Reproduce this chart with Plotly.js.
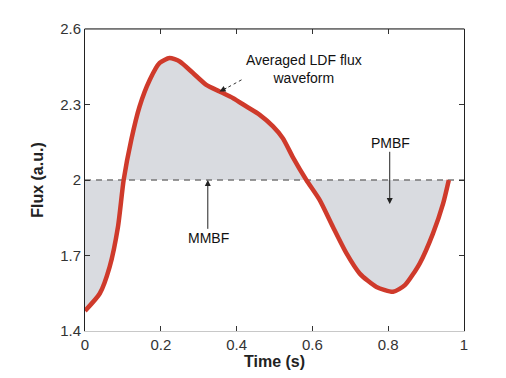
<!DOCTYPE html>
<html>
<head>
<meta charset="utf-8">
<script src="https://cdn.plot.ly/plotly-3.0.1.min.js"></script>
<style>html,body{margin:0;padding:0;background:#fff;}#chart{width:506px;height:378px;}</style>
</head>
<body>
<div id="chart"></div>
<script>
var time = [0, 0.039, 0.065, 0.087, 0.102, 0.122, 0.144, 0.171, 0.197, 0.223, 0.250, 0.285, 0.320, 0.355, 0.391, 0.426, 0.461, 0.496, 0.522, 0.549, 0.584, 0.619, 0.654, 0.690, 0.725, 0.769, 0.813, 0.844, 0.883, 0.918, 0.945, 0.960];
var flux = [1.480, 1.549, 1.655, 1.814, 2.000, 2.159, 2.292, 2.398, 2.465, 2.485, 2.471, 2.425, 2.378, 2.352, 2.325, 2.292, 2.259, 2.213, 2.166, 2.089, 2.000, 1.921, 1.814, 1.708, 1.628, 1.575, 1.556, 1.582, 1.668, 1.787, 1.907, 2.000];
var meanFlux = 2;
var xTicks = [0, 0.2, 0.4, 0.6, 0.8, 1];
var xTickText = ['0', '0.2', '0.4', '0.6', '0.8', '1'];
var yTicks = [1.4, 1.7, 2, 2.3, 2.6];
var yTickText = ['1.4', '1.7', '2', '2.3', '2.6'];
var baseline = time.map(function(){ return meanFlux; });

var font = 'Liberation Sans, Arial, sans-serif';
var traces = [
  {x: time, y: baseline, mode: 'lines', line: {width: 0, color: 'rgba(0,0,0,0)'}, hoverinfo: 'skip', showlegend: false},
  {x: time, y: flux, mode: 'lines', fill: 'tonexty', fillcolor: '#d9dbe0', line: {width: 0, color: 'rgba(0,0,0,0)', shape: 'spline', smoothing: 0.6}, showlegend: false},
  {x: [0, 1], y: [meanFlux, meanFlux], mode: 'lines', line: {color: '#777777', width: 1.5, dash: '6px,5px'}, showlegend: false},
  {x: time, y: flux, mode: 'lines', line: {color: '#cf3a2b', width: 4.5, shape: 'spline', smoothing: 0.6}, showlegend: false}
];

var layout = {
  width: 506, height: 378,
  margin: {l: 85, r: 42, t: 29, b: 47},
  paper_bgcolor: '#ffffff', plot_bgcolor: '#ffffff',
  showlegend: false,
  font: {family: font, size: 15, color: '#222'},
  xaxis: {
    range: [0, 1], tickvals: xTicks, ticktext: xTickText,
    ticks: 'inside', ticklen: 5, tickcolor: '#333', showgrid: false, zeroline: false,
    showline: true, linecolor: '#c8c8c8', linewidth: 1, mirror: 'ticks',
    tickfont: {family: font, size: 15, color: '#333'},
    title: {text: '<b>Time (s)</b>', font: {family: font, size: 16, color: '#222'}, standoff: 2}
  },
  yaxis: {
    range: [1.4, 2.6], tickvals: yTicks, ticktext: yTickText,
    ticks: 'inside', ticklen: 5, tickcolor: '#333', showgrid: false, zeroline: false,
    showline: true, linecolor: '#222', linewidth: 1, mirror: 'ticks',
    tickfont: {family: font, size: 15, color: '#333'},
    title: {text: '<b>Flux (a.u.)</b>', font: {family: font, size: 16, color: '#222'}, standoff: 12}
  },
  shapes: [
    {type: 'line', xref: 'paper', yref: 'paper', x0: 0, y0: 1, x1: 1, y1: 1, line: {color: '#222', width: 1}},
    {type: 'line', xref: 'x', yref: 'y', x0: 0.413, y0: 2.398, x1: 0.372, y1: 2.364, line: {color: '#333', width: 1, dash: 'dot'}}
  ],
  annotations: [
    {x: 0.577, y: 2.442, xref: 'x', yref: 'y', text: 'Averaged LDF flux<br>waveform', showarrow: false, font: {family: font, size: 14, color: '#111'}, align: 'center'},
    {x: 0.355, y: 2.352, ax: 0.377, ay: 2.368, xref: 'x', yref: 'y', axref: 'x', ayref: 'y', text: '', showarrow: true, arrowhead: 2, arrowsize: 1.2, arrowwidth: 1, arrowcolor: '#222'},
    {x: 0.807, y: 2.147, xref: 'x', yref: 'y', text: 'PMBF', showarrow: false, font: {family: font, size: 14, color: '#111'}},
    {x: 0.804, y: 1.905, ax: 0.804, ay: 2.118, xref: 'x', yref: 'y', axref: 'x', ayref: 'y', text: '', showarrow: true, arrowhead: 2, arrowsize: 1.2, arrowwidth: 1, arrowcolor: '#222'},
    {x: 0.327, y: 1.769, xref: 'x', yref: 'y', text: 'MMBF', showarrow: false, font: {family: font, size: 14, color: '#111'}},
    {x: 0.324, y: 2.0, ax: 0.324, ay: 1.80, xref: 'x', yref: 'y', axref: 'x', ayref: 'y', text: '', showarrow: true, arrowhead: 2, arrowsize: 1.2, arrowwidth: 1, arrowcolor: '#222'}
  ]
};

Plotly.newPlot('chart', traces, layout, {displayModeBar: false, staticPlot: true});
</script>
</body>
</html>
